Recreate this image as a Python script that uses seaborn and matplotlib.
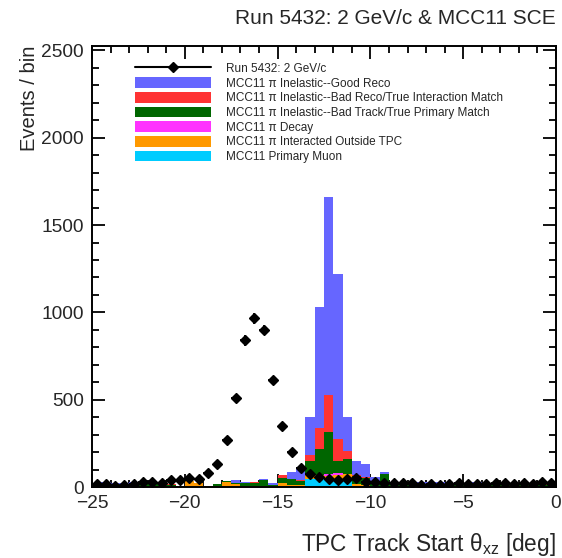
import numpy as np
import pandas as pd
import matplotlib
matplotlib.use("Agg")
import matplotlib.pyplot as plt
import seaborn as sns
from matplotlib.patches import Patch
from matplotlib.lines import Line2D
from matplotlib.ticker import MultipleLocator

# 0.5 degree bins from -25 to 0 deg
bin_width = 0.5
bin_centers = np.arange(-25.0, 0.0, bin_width) + bin_width / 2

# Data: Run 5432 events per bin
data_counts = [15, 15, 8, 11, 17, 29, 29, 21, 38, 38,
               50, 46, 78, 130, 271, 507, 839, 965, 899, 612,
               349, 200, 110, 74, 55, 46, 38, 48, 50, 30,
               27, 25, 21, 24, 22, 12, 20, 14, 17, 24,
               20, 20, 17, 24, 24, 20, 24, 20, 28, 24]

# MC11 stacked components
good_reco = [3, 4, 2, 3, 2, 3, 2, 1, 1, 1,
             2, 1, 1, 2, 2, 16, 3, 3, 3, 14,
             4, 37, 77, 217, 696, 1131, 942, 195, 81, 74,
             19, 8, 3, 2, 2, 16, 16, 14, 3, 2,
             3, 3, 3, 4, 3, 3, 3, 4, 3, 3]
bad_reco = [2, 3, 2, 2, 3, 2, 3, 4, 2, 0,
            0, 0, 0, 1, 0, 0, 1, 1, 2, 0,
            14, 4, 3, 38, 120, 214, 124, 46, 6, 8,
            8, 1, 5, 12, 2, 2, 2, 2, 1, 2,
            2, 12, 10, 2, 2, 2, 2, 2, 2, 2]
bad_track = [14, 16, 13, 15, 17, 14, 15, 12, 8, 2,
             2, 0, 1, 12, 2, 3, 18, 20, 34, 5,
             30, 30, 22, 81, 146, 240, 73, 84, 45, 40,
             20, 68, 12, 8, 6, 5, 6, 6, 6, 18,
             6, 6, 8, 6, 8, 7, 6, 14, 8, 7]
decay = [0, 0, 0, 0, 0, 0, 0, 0, 0, 0,
         0, 0, 0, 0, 0, 0, 0, 0, 0, 0,
         0, 0, 0, 0, 3, 10, 10, 2, 0, 0,
         0, 0, 0, 0, 0, 0, 0, 0, 0, 0,
         0, 0, 0, 0, 0, 0, 0, 0, 0, 0]
outside_tpc = [2, 1, 2, 1, 2, 1, 2, 1, 3, 2,
               30, 22, 2, 2, 28, 18, 2, 3, 4, 2,
               14, 8, 8, 22, 22, 20, 26, 34, 12, 6,
               5, 4, 3, 3, 4, 2, 3, 2, 3, 2,
               2, 3, 2, 3, 2, 2, 3, 2, 3, 2]
primary_muon = [2, 2, 2, 2, 2, 2, 2, 2, 2, 2,
                2, 1, 1, 2, 2, 2, 2, 2, 2, 2,
                8, 6, 5, 45, 45, 44, 42, 40, 6, 4,
                3, 3, 2, 2, 3, 2, 2, 2, 2, 2,
                2, 2, 2, 2, 2, 2, 2, 2, 3, 3]

categories = [
    "MCC11 π Inelastic--Good Reco",
    "MCC11 π Inelastic--Bad Reco/True Interaction Match",
    "MCC11 π Inelastic--Bad Track/True Primary Match",
    "MCC11 π Decay",
    "MCC11 π Interacted Outside TPC",
    "MCC11 Primary Muon",
]
colors = ["#6666ff", "#ff3333", "#006600", "#ff33ff", "#ff9900", "#00ccff"]
data_label = "Run 5432: 2 GeV/c"

sns.set_style("ticks")
plt.rcParams["font.family"] = ["Liberation Sans", "DejaVu Sans"]
plt.rcParams["mathtext.default"] = "regular"

fig = plt.figure(figsize=(5.62, 5.58), dpi=100)
ax = fig.add_axes([0.1637, 0.1272, 0.8256, 0.7903])

components = [good_reco, bad_reco, bad_track, decay, outside_tpc, primary_muon]
mc = pd.DataFrame({
    "theta": np.tile(bin_centers, len(categories)),
    "count": np.concatenate([np.asarray(c, float) for c in components]),
    "sample": np.repeat(categories, len(bin_centers)),
})

sns.histplot(data=mc, x="theta", weights="count", hue="sample",
             hue_order=categories, palette=colors, multiple="stack",
             binwidth=bin_width, binrange=(-25, 0), element="step",
             fill=True, alpha=1, linewidth=0, legend=False, ax=ax)

counts = np.asarray(data_counts, float)
ax.errorbar(bin_centers, counts, yerr=np.sqrt(counts), xerr=bin_width / 2,
            fmt="D", color="black", ms=5, elinewidth=1.3, capsize=0,
            zorder=5)

ax.set_xlim(-25, 0)
ax.set_ylim(0, 2525)
ax.xaxis.set_major_locator(MultipleLocator(5))
ax.xaxis.set_minor_locator(MultipleLocator(1))
ax.yaxis.set_major_locator(MultipleLocator(500))
ax.yaxis.set_minor_locator(MultipleLocator(100))
ax.tick_params(which="both", direction="in", top=True, right=True,
               width=1.3, labelsize=13.8, color="black")
ax.tick_params(which="major", length=9.5, pad=6)
ax.tick_params(which="minor", length=4.8)
for sp in ax.spines.values():
    sp.set_linewidth(1.4)
    sp.set_color("black")

ax.set_xlabel("TPC Track Start θ$_{xz}$ [deg]", fontsize=16.3, loc="right")
ax.set_ylabel("Events / bin", fontsize=14.5, loc="top")
ax.xaxis.set_label_coords(1.0, -0.10)
ax.yaxis.set_label_coords(-0.115, 1.0)

fig.text(0.9893, 0.967, "Run 5432: 2 GeV/c & MCC11 SCE", ha="right",
         va="center", fontsize=15)

handles = [Line2D([], [], color="black", marker="D", ms=5, lw=1.5)]
handles += [Patch(facecolor=c, edgecolor="none") for c in colors]
labels = [data_label] + categories
ax.legend(handles, labels, loc="upper left", bbox_to_anchor=(0.0927, 0.962),
          frameon=False, fontsize=8.5, handlelength=6.4, handleheight=1.0,
          handletextpad=1.3, labelspacing=0.195, borderpad=0,
          borderaxespad=0)

fig.savefig("out.png", dpi=100)
